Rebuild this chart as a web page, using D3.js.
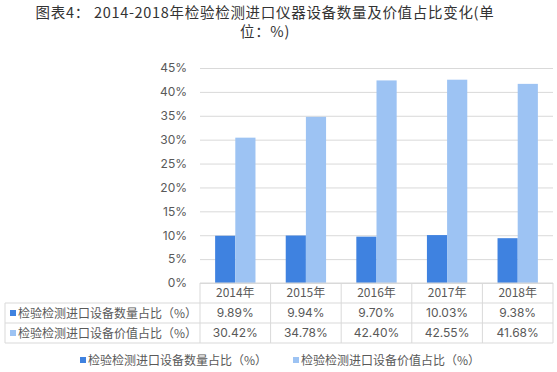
<!DOCTYPE html>
<html>
<head>
<meta charset="utf-8">
<script src="https://cdn.jsdelivr.net/npm/d3@7"></script>
<style>
  body { margin: 0; background: #fff; }
  svg { display: block; font-family: "Microsoft YaHei", "Noto Sans CJK SC", sans-serif; }
</style>
</head>
<body>
<div id="wrapper"></div>
<script>
/* DATA */
const years = ['2014年', '2015年', '2016年', '2017年', '2018年'];
const seriesNames = ['检验检测进口设备数量占比（%）', '检验检测进口设备价值占比（%）'];
const quantityShare = [9.89, 9.94, 9.70, 10.03, 9.38];
const valueShare = [30.42, 34.78, 42.40, 42.55, 41.68];
const yTicks = [0, 5, 10, 15, 20, 25, 30, 35, 40, 45];
const titleLines = ['图表4： 2014-2018年检验检测进口仪器设备数量及价值占比变化(单', '位：%)'];
const colors = ['#3f82e0', '#9dc3f3'];

const series = [quantityShare, valueShare];

/* DIMENSIONS */
const width = 557;
const height = 372;
const plot = { left: 200, right: 553, top: 68, bottom: 283 };
const rowH = 20;
const tableLeft = 5;

const svg = d3.select('#wrapper').append('svg')
  .attr('width', width)
  .attr('height', height);

/* TITLE */
svg.selectAll('text.title')
  .data(titleLines)
  .join('text')
  .attr('class', 'title')
  .attr('x', 265)
  .attr('y', (d, i) => 18 + i * 19)
  .attr('text-anchor', 'middle')
  .attr('fill', '#333')
  .attr('font-size', 14.5)
  .attr('letter-spacing', 0.7)
  .text(d => d);

/* SCALES */
const x = d3.scaleBand()
  .domain(years)
  .range([plot.left, plot.right]);

const x1 = d3.scaleBand()
  .domain([0, 1])
  .range([0, x.bandwidth()])
  .paddingOuter(0.75);

const y = d3.scaleLinear()
  .domain([0, 45])
  .range([plot.bottom, plot.top]);

/* GRID + Y AXIS */
const yAxis = svg.append('g')
  .attr('transform', `translate(${plot.left},0)`)
  .call(d3.axisLeft(y).tickValues(yTicks).tickFormat(d => d + '%')
    .tickSize(-(plot.right - plot.left)).tickPadding(13));
yAxis.select('.domain').remove();
yAxis.selectAll('.tick line').attr('stroke', '#d9d9d9');
yAxis.selectAll('.tick text').attr('fill', '#595959').attr('font-size', 12)
  .style('font-family', 'Inter, "Noto Sans", sans-serif');

/* BARS */
series.forEach((vals, si) => {
  svg.append('g').selectAll('rect')
    .data(vals)
    .join('rect')
    .attr('x', (d, i) => x(years[i]) + x1(si))
    .attr('width', x1.bandwidth())
    .attr('y', d => y(d))
    .attr('height', d => y(0) - y(d))
    .attr('fill', colors[si]);
});

/* DATA TABLE */
const table = svg.append('g');
const lineColor = '#d9d9d9';
const tableBottom = plot.bottom + rowH * 3;

// horizontal lines
[plot.bottom, plot.bottom + rowH, plot.bottom + rowH * 2, tableBottom].forEach((yy, k) => {
  table.append('line')
    .attr('x1', k === 0 ? plot.left : tableLeft).attr('x2', plot.right)
    .attr('y1', yy).attr('y2', yy)
    .attr('stroke', lineColor);
});
// vertical lines
const vx = years.map(d => x(d)).concat([plot.right]);
vx.forEach(xx => {
  table.append('line')
    .attr('x1', xx).attr('x2', xx)
    .attr('y1', plot.bottom).attr('y2', tableBottom)
    .attr('stroke', lineColor);
});
table.append('line')
  .attr('x1', tableLeft).attr('x2', tableLeft)
  .attr('y1', plot.bottom + rowH).attr('y2', tableBottom)
  .attr('stroke', lineColor);

// header row
table.selectAll('text.year')
  .data(years)
  .join('text')
  .attr('x', d => x(d) + x.bandwidth() / 2)
  .attr('y', plot.bottom + rowH / 2 + 4)
  .attr('text-anchor', 'middle')
  .attr('fill', '#595959')
  .attr('font-size', 12)
  .text(d => d);

// value rows
series.forEach((vals, si) => {
  const rowY = plot.bottom + rowH * (si + 1);
  table.append('rect')
    .attr('x', 10).attr('y', rowY + 7)
    .attr('width', 6).attr('height', 6)
    .attr('fill', colors[si]);
  table.append('text')
    .attr('x', 18).attr('y', rowY + rowH / 2 + 5)
    .attr('fill', '#595959')
    .attr('font-size', 12)
    .text(seriesNames[si]);
  table.append('g').selectAll('text')
    .data(vals)
    .join('text')
    .attr('x', (d, i) => x(years[i]) + x.bandwidth() / 2)
    .attr('y', rowY + rowH / 2 + 4)
    .attr('text-anchor', 'middle')
    .attr('fill', '#595959')
    .attr('font-size', 12)
    .style('font-family', 'Inter, "Noto Sans", sans-serif')
    .text(d => d.toFixed(2) + '%');
});

/* LEGEND */
const legendX = [80, 293];
const legend = svg.append('g');
seriesNames.forEach((name, si) => {
  legend.append('rect')
    .attr('x', legendX[si]).attr('y', 357)
    .attr('width', 6).attr('height', 6)
    .attr('fill', colors[si]);
  legend.append('text')
    .attr('x', legendX[si] + 8).attr('y', 365)
    .attr('fill', '#595959')
    .attr('font-size', 12)
    .text(name);
});
</script>
</body>
</html>
